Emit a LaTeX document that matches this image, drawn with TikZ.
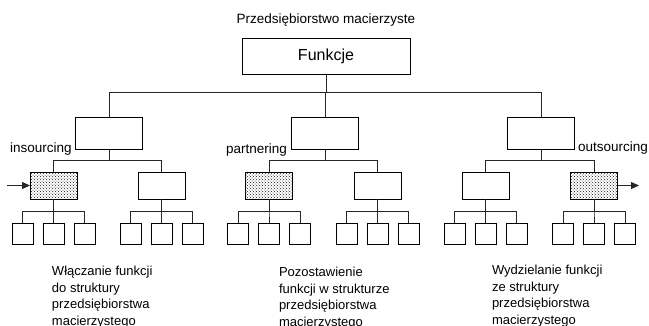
\documentclass[tikz,border=0pt]{standalone}
\usepackage{fontspec}
\setmainfont{Liberation Sans}
\usetikzlibrary{patterns,arrows.meta}
\begin{document}
\begin{tikzpicture}[x=1pt,y=-1pt,
  every node/.style={inner sep=0pt,outer sep=0pt},
  conn/.style={draw=black!85,line width=0.8pt},
  arr/.style={conn,-{Triangle[length=8pt,width=7pt]}},
  topbox/.style={draw=black,line width=0.8pt,fill=white,minimum width=168pt,minimum height=36pt,font=\fontsize{16}{19}\selectfont},
  midbox/.style={draw=black,line width=0.8pt,fill=white,minimum width=67pt,minimum height=32pt},
  lowbox/.style={draw=black,line width=0.8pt,fill=white,minimum width=47pt,minimum height=27pt},
  dotbox/.style={lowbox,pattern=crosshatch dots,pattern color=black!90},
  leaf/.style={draw=black,line width=0.8pt,fill=white,minimum width=21pt,minimum height=21pt},
  lbl/.style={font=\fontsize{13.5}{16}\selectfont},
  desc/.style={font=\fontsize{13}{16.5}\selectfont,align=left,anchor=north west}
]
\useasboundingbox (0,0) rectangle (649,325);

\node[lbl] (title) at (326,20) {Przedsiębiorstwo macierzyste};
\node[topbox] (F) at (326,56) {Funkcje};

\node[midbox] (A) at (109,133) {};
\node[midbox] (B) at (325,133) {};
\node[midbox] (C) at (541,133) {};

\draw[conn] (F.south) -- ++(0,18) -| (A.north);
\draw[conn] (F.south) -- ++(0,18) -| (B.north);
\draw[conn] (F.south) -- ++(0,18) -| (C.north);

\node[dotbox] (A1) at (53.5,185.5) {};
\node[lowbox] (A2) at (161.5,185.5) {};
\node[dotbox] (B1) at (269,185.5) {};
\node[lowbox] (B2) at (377.5,185.5) {};
\node[lowbox] (C1) at (485.5,185.5) {};
\node[dotbox] (C2) at (594,185.5) {};

\foreach \p/\c in {A/A1,A/A2,B/B1,B/B2,C/C1,C/C2}{
  \draw[conn] (\p.south) -- ++(0,11) -| (\c.north);
}

\foreach \c in {A1,A2,B1,B2,C1,C2}{
  \foreach \k/\dx in {1/-31,2/0,3/31}{
    \node[leaf] (\c-\k) at ([xshift=\dx pt,yshift=-48pt]\c.center) {};
    \draw[conn] (\c.south) -- ++(0,12) -| (\c-\k.north);
  }
}

\coordinate (inL) at (7,185.5);
\coordinate (outR) at (639,185.5);
\draw[arr] (inL) -- (A1.west);
\draw[arr] (C2.east) -- (outR);

\node[lbl] (lin) at (41,149) {insourcing};
\node[lbl] (lpa) at (256.5,150) {partnering};
\node[lbl] (lout) at (613,148) {outsourcing};

\node[desc] (d1) at (52,266.5) {Włączanie funkcji\\do struktury\\przedsiębiorstwa\\macierzystego};
\node[desc] (d2) at (279,267.5) {Pozostawienie\\funkcji w strukturze\\przedsiębiorstwa\\macierzystego};
\node[desc] (d3) at (492,265.5) {Wydzielanie funkcji\\ze struktury\\przedsiębiorstwa\\macierzystego};
\end{tikzpicture}
\end{document}
